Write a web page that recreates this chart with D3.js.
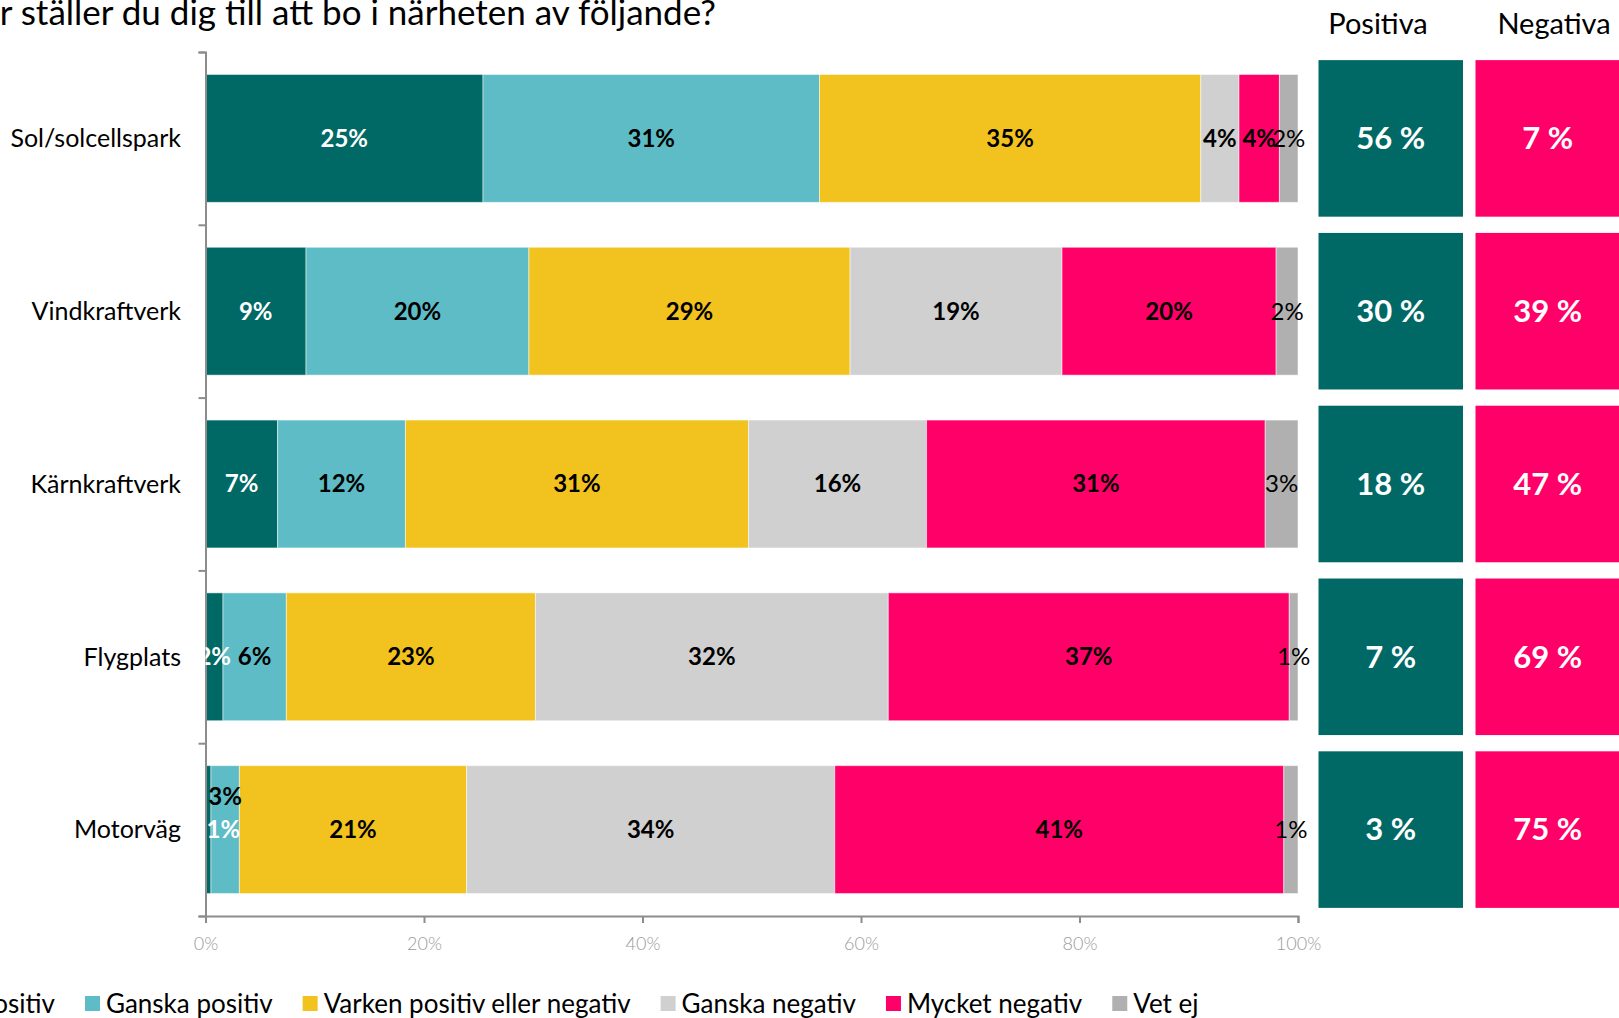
<!DOCTYPE html>
<html>
<head>
<meta charset="utf-8">
<script src="https://cdn.jsdelivr.net/npm/d3@7"></script>
<style>
    body { margin: 0; background: #fff; overflow: hidden; }
    svg { display: block; font-family: Lato, "Open Sans", sans-serif; }
</style>
</head>
<body>
<div id="chart"></div>
<script>
// categories (top to bottom)
const categories = ["Sol/solcellspark", "Vindkraftverk", "Kärnkraftverk", "Flygplats", "Motorväg"];
const seriesNames = ["Mycket positiv", "Ganska positiv", "Varken positiv eller negativ", "Ganska negativ", "Mycket negativ", "Vet ej"];
const seriesColors = ["#006865", "#5dbcc6", "#f2c21e", "#d0d0d0", "#ff0068", "#b0b0b0"];

// percentages per category, in series order
const mycketPositiv = [25.4, 9.2, 6.6, 1.6, 0.5];
const ganskaPositiv = [30.8, 20.4, 11.7, 5.8, 2.6];
const varken = [34.9, 29.4, 31.4, 22.8, 20.8];
const ganskaNegativ = [3.5, 19.4, 16.3, 32.3, 33.7];
const mycketNegativ = [3.7, 19.6, 31.0, 36.7, 41.1];
const vetEj = [1.7, 2.0, 3.0, 0.8, 1.3];

const xTicks = [0, 20, 40, 60, 80, 100];

class StackedChart {
    constructor(parentElement) {
        this.parentElement = parentElement;
        this.initVis();
    }

    initVis() {
        let vis = this;

        vis.width = 1619;
        vis.height = 1018;

        vis.svg = d3.select("#" + vis.parentElement)
            .append("svg")
            .attr("width", vis.width)
            .attr("height", vis.height);

        vis.x = d3.scaleLinear().domain([0, 100]).range([205.5, 1298]);
        vis.y = d3.scaleBand().domain(categories).range([52, 916])
            .paddingInner(0.26).paddingOuter(0.13);
        vis.yPanel = d3.scaleBand().domain(categories).range([52, 916])
            .paddingInner(0.094).paddingOuter(0.047);

        // labels are kept inside the plot area, like Excel does
        vis.svg.append("defs").append("clipPath")
            .attr("id", "plot-clip")
            .append("rect")
            .attr("x", vis.x(0))
            .attr("y", 40)
            .attr("width", 1120)
            .attr("height", 880);

        vis.wrangleData();
        vis.updateVis();
    }

    wrangleData() {
        let vis = this;
        let cols = [mycketPositiv, ganskaPositiv, varken, ganskaNegativ, mycketNegativ, vetEj];

        vis.rows = categories.map((c, i) => {
            let row = { cat: c };
            seriesNames.forEach((s, j) => row[s] = cols[j][i]);
            return row;
        });

        vis.stacked = d3.stack().keys(seriesNames)(vis.rows);

        vis.positiva = vis.rows.map(r => Math.round(r["Mycket positiv"] + r["Ganska positiv"]));
        vis.negativa = vis.rows.map(r => Math.round(r["Ganska negativ"] + r["Mycket negativ"]));
    }

    updateVis() {
        let vis = this;

        // title (cut off on the left like the original)
        vis.svg.append("text")
            .attr("x", 716)
            .attr("y", 25)
            .attr("text-anchor", "end")
            .style("font-size", "35px")
            .style("fill", "#000")
            .text("Hur ställer du dig till att bo i närheten av följande?");

        // bars
        let groups = vis.svg.selectAll(".series")
            .data(vis.stacked)
            .enter().append("g")
            .attr("class", "series")
            .attr("fill", (d, i) => seriesColors[i]);

        groups.selectAll("rect")
            .data(d => d)
            .enter().append("rect")
            .attr("x", d => vis.x(d[0]))
            .attr("y", d => vis.y(d.data.cat))
            .attr("width", d => vis.x(d[1]) - vis.x(d[0]))
            .attr("height", vis.y.bandwidth())
            .attr("stroke", "#fff")
            .attr("stroke-opacity", 0.5)
            .attr("stroke-width", 1);

        // y axis with ticks between categories
        let yb = d3.scaleLinear().domain([0, categories.length]).range([52, 916]);
        vis.svg.append("g")
            .attr("class", "y-axis")
            .attr("transform", `translate(${vis.x(0)},0)`)
            .call(d3.axisLeft(yb).ticks(categories.length).tickFormat("").tickSize(7).tickSizeOuter(7))
            .call(g => g.selectAll("line, path").attr("stroke", "#8c8c8c").attr("stroke-width", 2));

        // x axis
        vis.svg.append("g")
            .attr("class", "x-axis")
            .attr("transform", `translate(0,${916})`)
            .call(d3.axisBottom(vis.x).tickValues(xTicks).tickFormat(d => d + "%").tickSize(7).tickSizeOuter(7).tickPadding(14))
            .call(g => g.selectAll("line, path").attr("stroke", "#8c8c8c").attr("stroke-width", 2))
            .call(g => g.selectAll("text")
                .style("font-size", "18px")
                .style("font-family", "Lato, sans-serif")
                .style("font-weight", "300")
                .style("fill", "#9a9a9a"));

        // segment labels, in their own layer on top of every bar
        let labelData = [];
        vis.stacked.forEach((s, i) => s.forEach(v => labelData.push({ v: v, key: s.key, idx: i })));

        let labels = vis.svg.append("g").attr("class", "bar-labels")
            .attr("clip-path", "url(#plot-clip)")
            .selectAll("text")
            .data(labelData)
            .enter().append("text")
            .attr("x", d => vis.x((d.v[0] + d.v[1]) / 2))
            .attr("y", d => {
                let yc = vis.y(d.v.data.cat) + vis.y.bandwidth() / 2;
                // Excel had this label dragged up to avoid overlap
                if (d.v.data.cat === "Motorväg" && d.key === "Ganska positiv") yc -= 33;
                return yc;
            })
            .attr("dy", "0.35em")
            .attr("text-anchor", "middle")
            .style("font-size", "24px")
            .style("font-weight", d => d.idx === 5 ? "normal" : "bold")
            .style("fill", d => d.idx === 0 ? "#fff" : "#000")
            .text(d => Math.round(d.v[1] - d.v[0]) + "%");

        // push labels that stick far out of the left edge back inside
        labels.each(function() {
            let t = d3.select(this);
            let w = this.getComputedTextLength();
            let cx = +t.attr("x");
            if (cx - w / 2 < vis.x(0) - 10) t.attr("x", vis.x(0) + 1 + w / 2);
        });

        // category labels
        vis.svg.selectAll(".cat-label")
            .data(categories)
            .enter().append("text")
            .attr("class", "cat-label")
            .attr("x", 181)
            .attr("y", d => vis.y(d) + vis.y.bandwidth() / 2)
            .attr("dy", "0.35em")
            .attr("text-anchor", "end")
            .style("font-size", "25px")
            .style("fill", "#000")
            .text(d => d);

        // summary panels
        let panels = [
            { title: "Positiva", values: vis.positiva, color: "#006865", x0: 1318.5, cx: 1378 },
            { title: "Negativa", values: vis.negativa, color: "#ff0068", x0: 1475.5, cx: 1554 }
        ];
        let panelW = 144.5;

        panels.forEach(p => {
            vis.svg.append("text")
                .attr("x", p.cx)
                .attr("y", 34)
                .attr("text-anchor", "middle")
                .style("font-size", "29px")
                .style("fill", "#000")
                .text(p.title);

            vis.svg.selectAll(null)
                .data(categories)
                .enter().append("rect")
                .attr("x", p.x0)
                .attr("y", d => vis.yPanel(d))
                .attr("width", panelW)
                .attr("height", vis.yPanel.bandwidth())
                .attr("fill", p.color);

            vis.svg.selectAll(null)
                .data(categories)
                .enter().append("text")
                .attr("x", p.x0 + panelW / 2)
                .attr("y", d => vis.yPanel(d) + vis.yPanel.bandwidth() / 2)
                .attr("dy", "0.35em")
                .attr("text-anchor", "middle")
                .style("font-size", "31px")
                .style("font-weight", "bold")
                .style("fill", "#fff")
                .text((d, i) => p.values[i] + " %");
        });

        // legend, laid out left to right; first item runs off the left edge
        let legend = vis.svg.append("g").attr("class", "legend");
        let items = legend.selectAll("g")
            .data(seriesNames)
            .enter().append("g");
        items.append("rect")
            .attr("width", 15)
            .attr("height", 15)
            .attr("y", -17)
            .attr("fill", (d, i) => seriesColors[i]);
        items.append("text")
            .attr("x", 21)
            .attr("y", 0)
            .style("font-size", "26px")
            .style("fill", "#000")
            .text(d => d);

        let widths = [];
        items.select("text").each(function() { widths.push(this.getComputedTextLength()); });
        let xpos = 55 - widths[0] - 21;
        items.each(function(d, i) {
            d3.select(this).attr("transform", `translate(${xpos},1013)`);
            xpos += 21 + widths[i] + 30;
        });
    }
}

new StackedChart("chart");
</script>
</body>
</html>
